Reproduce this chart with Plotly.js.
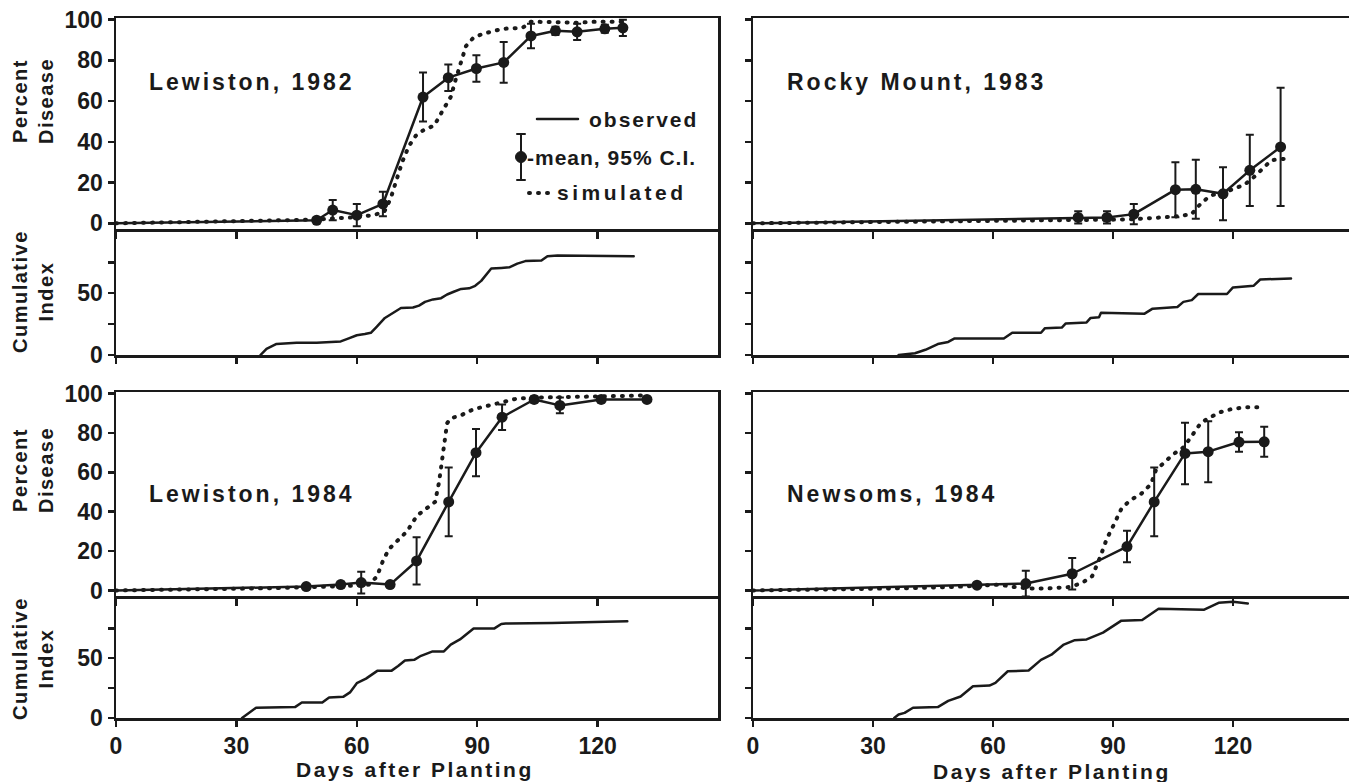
<!DOCTYPE html>
<html>
<head>
<meta charset="utf-8">
<script src="https://cdn.plot.ly/plotly-3.0.1.min.js"></script>
<style>
html,body{margin:0;padding:0;background:#fff;}
#chart{width:1349px;height:782px;}
.annotation-text{letter-spacing:2px;}
.scatterlayer .js-line{stroke-linecap:round;stroke-linejoin:round;}
.shapelayer path{stroke-linecap:round;}
</style>
</head>
<body>
<div id="chart"></div>
<script>
// ---------- DATA ----------
const xTicks = [0, 30, 60, 90, 120];
const pctTicks = [0, 20, 40, 60, 80, 100];
const cumTicks = [0, 25, 50, 75];
const cumTickText = ['0', '', '50', ''];

const siteNames = ['Lewiston, 1982', 'Rocky Mount, 1983', 'Lewiston, 1984', 'Newsoms, 1984'];

// Lewiston, 1982
const obsDays82 = [50, 54, 60, 66.5, 76.5, 82.8, 89.8, 96.6, 103.4, 109.5, 114.9, 121.8, 126.3];
const obsPct82  = [1.5, 6.5, 4, 9.5, 62, 71.5, 76, 79, 92, 94.5, 94, 95.5, 96];
const ci82      = [1, 5, 5.5, 6, 12, 6.5, 6.5, 10, 6, 2, 4, 2, 4];
const simDays82 = [0, 10, 20, 30, 40, 50, 55, 60, 64, 66.8, 68.4, 70, 71.3, 73, 74.7, 76.8, 79.3, 81.3, 83.4, 84.7, 86.3, 87.2, 89, 91.3, 96.3, 101.3, 103.4, 110, 115, 120, 126.3];
const simPct82  = [0, 0.3, 0.5, 0.8, 1.2, 1.8, 2.5, 3, 4, 5.5, 12, 22, 30, 38, 43, 46, 48, 55, 62, 71, 82, 87, 91, 93, 95.5, 96, 99, 98.5, 98.5, 99, 99];
const cumDays82 = [36, 37.5, 40, 45, 50, 56, 58, 60, 62, 63.5, 65, 67, 69, 71, 74, 75.5, 77, 79, 81, 82.5, 84, 86, 88, 89.5, 91, 93.5, 96, 98, 100, 102, 106, 107.5, 110, 120, 129];
const cumIdx82  = [0, 5, 9, 10, 10, 11, 13.5, 16, 17, 18, 23, 30, 34, 38, 38.5, 40, 43, 45, 46, 49, 51, 53.5, 54, 56, 60, 70, 70.5, 71, 74, 76, 76.5, 80, 80.5, 80.5, 80];

// Rocky Mount, 1983
const obsDays83 = [81.3, 88.5, 95.2, 105.6, 110.7, 117.5, 124.2, 131.9];
const obsPct83  = [2.9, 2.9, 4.5, 16.5, 16.7, 14.5, 26, 37.5];
const ci83      = [3, 3, 5, 13.5, 14.5, 13, 17.5, 29];
const simDays83 = [0, 20, 40, 60, 80, 90, 95, 98.7, 102, 105.4, 109.6, 112, 114.2, 116.2, 118.7, 122.9, 125.4, 129.6, 133.3];
const simPct83  = [0, 0.3, 0.6, 1, 1.5, 1.8, 2, 2.3, 2.8, 3.3, 4.4, 9.8, 13.4, 14.7, 15.8, 19, 23, 31, 31.7];
const cumDays83 = [36.4, 40.5, 43.1, 46.2, 48.8, 50.3, 62.7, 64.8, 72, 73, 77.2, 78.2, 83.4, 84.4, 86.5, 87, 97.8, 99.9, 106.1, 107.6, 109.7, 111.3, 118.5, 120, 125.2, 126.8, 134.5];
const cumIdx83  = [0, 1.4, 4.2, 8.9, 10.6, 13.3, 13.3, 18, 18, 21.7, 22.2, 25.6, 26.4, 30, 30.6, 34.2, 33.3, 37.5, 38.9, 43, 44.4, 49.4, 49.4, 54.7, 56.1, 61.1, 62];

// Lewiston, 1984
const obsDays84L = [47.4, 56, 61.1, 68.3, 74.9, 82.9, 89.7, 96.2, 104.2, 110.6, 120.9, 132.3];
const obsPct84L  = [2, 3, 4, 3, 15, 45, 70, 88, 97, 94, 97, 97];
const ci84L      = [1, 1.5, 5.5, 1, 12, 17.5, 12, 6.5, 1.5, 4, 1.5, 1];
const simDays84L = [0, 20, 40, 50, 55, 60, 63, 65, 66.5, 68, 70, 72.5, 75, 77.5, 79.5, 80.5, 81.5, 82.5, 83.5, 86, 89, 93, 96.5, 100, 106, 115, 131];
const simPct84L  = [0, 0.5, 1.2, 1.8, 2, 2.5, 3, 7, 15, 21, 25, 30, 38, 42, 45, 55, 70, 85, 87.5, 89, 92, 94, 96, 97.5, 98, 98.5, 99];
const cumDays84L = [31.4, 33.1, 34.9, 44.6, 46.3, 51.4, 53.1, 56.6, 58.3, 60, 62.3, 65.1, 68.6, 70.3, 72, 74.3, 76, 78.9, 81.7, 83.4, 85.7, 89.1, 94.3, 96, 97.1, 108.6, 127.4];
const cumIdx84L  = [0, 4.3, 8.6, 9.1, 12.9, 12.9, 17.1, 17.7, 21.4, 29.1, 32.9, 39.4, 39.4, 43.4, 48, 48.6, 52, 55.7, 55.7, 61.4, 65.7, 74.9, 74.9, 78.6, 79, 79.4, 80.9];

// Newsoms, 1984
const obsDays84N = [56, 68.2, 79.8, 93.5, 100.3, 108, 113.8, 121.5, 127.8];
const obsPct84N  = [2.7, 3.5, 8.5, 22.3, 45, 69.6, 70.5, 75.4, 75.5];
const ci84N      = [1, 6.5, 8, 8, 17.5, 15.6, 15.5, 5, 7.6];
const simDays84N = [0, 20, 40, 50, 56, 59.3, 61.8, 65, 69.2, 73.3, 76.6, 79.4, 82.3, 84.8, 86.8, 88.4, 90.1, 92.1, 94.2, 97, 99.5, 100.7, 102.8, 105.2, 107.7, 109.8, 111.8, 113.4, 116.7, 119.8, 123.1, 128];
const simPct84N  = [0, 0.5, 1.2, 1.8, 2.5, 3, 3, 1.8, 1, 1, 1.3, 1.8, 3.9, 7.3, 17, 26, 33, 41.5, 45.7, 49, 54, 61, 65, 69.4, 72.8, 78.7, 84.6, 87, 90.5, 92.2, 93, 93];
const cumDays84N = [35.3, 36.4, 37.9, 40, 46.2, 48.8, 51.9, 55, 59.1, 60.6, 63.7, 68.9, 72, 74.6, 77.7, 80.3, 83.4, 87.5, 92.1, 97.3, 101.4, 112.8, 116.4, 120, 123.7];
const cumIdx84N  = [0, 2.9, 4.3, 8.6, 9.1, 14.3, 18, 26.6, 27.1, 29.4, 39.1, 39.7, 48.6, 52.9, 61.4, 64.9, 65.7, 71.4, 81.4, 82, 91.4, 90.6, 96.3, 97.1, 95.7];

// ---------- BUILD ----------
const INK = '#1a1a1a';
const W = 1349, H = 782;
const px = v => v / W;
const py = v => 1 - v / H;
const FAM = 'Liberation Sans, Arial, sans-serif';
const DOTS = '1px,8px';

const panels = [
  {name: siteNames[0], obsD: obsDays82, obsP: obsPct82, ci: ci82, simD: simDays82, simP: simPct82, cumD: cumDays82, cumV: cumIdx82, col: 0, row: 0},
  {name: siteNames[1], obsD: obsDays83, obsP: obsPct83, ci: ci83, simD: simDays83, simP: simPct83, cumD: cumDays83, cumV: cumIdx83, col: 1, row: 0},
  {name: siteNames[2], obsD: obsDays84L, obsP: obsPct84L, ci: ci84L, simD: simDays84L, simP: simPct84L, cumD: cumDays84L, cumV: cumIdx84L, col: 0, row: 1},
  {name: siteNames[3], obsD: obsDays84N, obsP: obsPct84N, ci: ci84N, simD: simDays84N, simP: simPct84N, cumD: cumDays84N, cumV: cumIdx84N, col: 1, row: 1}
];

const colDom = [[px(116), px(718)], [px(753), 1]];
const colRange = [[0, 150], [0, 149]];
const rowPct = [[py(229), py(18)], [py(596), py(392)]];
const rowCum = [[py(355), py(229)], [py(718), py(596)]];

const tickFont = {family: FAM, size: 23, color: INK, weight: 'bold'};
const baseAxis = {
  showline: true, mirror: true, linecolor: INK, linewidth: 2.5,
  ticks: 'outside', ticklen: 7, tickwidth: 2.5, tickcolor: INK,
  showgrid: false, zeroline: false, fixedrange: true, tickfont: tickFont
};

const traces = [];
const layout = {
  width: W, height: H,
  margin: {l: 0, r: 0, t: 0, b: 0},
  paper_bgcolor: '#fff', plot_bgcolor: '#fff',
  showlegend: false,
  annotations: [], shapes: []
};

const spaced = (t, s) => '<span style="letter-spacing:' + s + 'px">' + t + '</span>';

panels.forEach((p, i) => {
  const a = 2 * i + 1, b = 2 * i + 2;
  const xa = 'x' + a, ya = 'y' + a, xb = 'x' + b, yb = 'y' + b;
  const left = p.col === 0;
  const bottom = p.row === 1;

  layout['xaxis' + a] = Object.assign({}, baseAxis, {domain: colDom[p.col], range: colRange[p.col], anchor: ya, tickvals: xTicks, showticklabels: false});
  layout['yaxis' + a] = Object.assign({}, baseAxis, {domain: rowPct[p.row], range: [-2.8, 100.8], anchor: xa, tickvals: pctTicks, showticklabels: left, ticklen: 6});
  layout['xaxis' + b] = Object.assign({}, baseAxis, {domain: colDom[p.col], range: colRange[p.col], anchor: yb, tickvals: xTicks, showticklabels: bottom, ticklen: 6, mirror: false});
  layout['yaxis' + b] = Object.assign({}, baseAxis, {domain: rowCum[p.row], range: [0, 102], anchor: xb, tickvals: cumTicks, ticktext: cumTickText, showticklabels: left, ticklen: 6});

  // simulated (dotted)
  traces.push({x: p.simD, y: p.simP, xaxis: xa, yaxis: ya, mode: 'lines', type: 'scatter',
    line: {color: INK, width: 4, dash: DOTS}, hoverinfo: 'skip', cliponaxis: false});
  // observed line (starts at planting, day 0)
  traces.push({x: [0].concat(p.obsD), y: [0].concat(p.obsP), xaxis: xa, yaxis: ya, mode: 'lines', type: 'scatter',
    line: {color: INK, width: 2.5}, hoverinfo: 'skip', cliponaxis: false});
  // observed means with 95% CI
  traces.push({x: p.obsD, y: p.obsP, xaxis: xa, yaxis: ya, mode: 'markers', type: 'scatter',
    marker: {color: INK, size: 11},
    error_y: {type: 'data', array: p.ci, visible: true, color: INK, thickness: 2, width: 4},
    cliponaxis: false});
  // cumulative index
  traces.push({x: p.cumD, y: p.cumV, xaxis: xb, yaxis: yb, mode: 'lines', type: 'scatter',
    line: {color: INK, width: 2.5}, hoverinfo: 'skip'});

  layout.annotations.push({xref: 'paper', yref: 'paper', x: px(left ? 147 : 785), y: py(p.row === 0 ? 82 : 494),
    xanchor: 'left', yanchor: 'middle', text: spaced(p.name, 3), showarrow: false,
    font: {family: FAM, size: 23, color: INK, weight: 'bold'}});

  if (left) {
    const yf = {family: FAM, size: 20, color: INK, weight: 'bold'};
    layout.annotations.push({xref: 'paper', yref: 'paper', x: px(33), y: py(p.row === 0 ? 101 : 470),
      text: spaced('Percent<br>Disease', 1.5), textangle: -90, showarrow: false, xanchor: 'center', yanchor: 'middle', font: yf});
    layout.annotations.push({xref: 'paper', yref: 'paper', x: px(33), y: py(p.row === 0 ? 292 : 659),
      text: spaced('Cumulative<br>Index', 1.5), textangle: -90, showarrow: false, xanchor: 'center', yanchor: 'middle', font: yf});
  }
  if (bottom) {
    layout.annotations.push({xref: 'paper', yref: 'paper', x: px(left ? 415 : 1052), y: py(left ? 769 : 771),
      text: spaced('Days after Planting', 2.5), showarrow: false, xanchor: 'center', yanchor: 'middle',
      font: {family: FAM, size: 21, color: INK, weight: 'bold'}});
  }
});

// ---------- legend (Lewiston, 1982 panel) ----------
const legFont = {family: FAM, size: 21, color: INK, weight: 'bold'};
layout.shapes.push({type: 'line', xref: 'paper', yref: 'paper', x0: px(537), x1: px(578), y0: py(119), y1: py(119), line: {color: INK, width: 2.5}});
layout.annotations.push({xref: 'paper', yref: 'paper', x: px(587), y: py(119), xanchor: 'left', yanchor: 'middle', text: spaced('observed', 2), showarrow: false, font: legFont});
layout.shapes.push({type: 'line', xref: 'paper', yref: 'paper', x0: px(521), x1: px(521), y0: py(134), y1: py(180), line: {color: INK, width: 2}});
layout.shapes.push({type: 'line', xref: 'paper', yref: 'paper', x0: px(517), x1: px(525), y0: py(134), y1: py(134), line: {color: INK, width: 2}});
layout.shapes.push({type: 'line', xref: 'paper', yref: 'paper', x0: px(517), x1: px(525), y0: py(180), y1: py(180), line: {color: INK, width: 2}});
layout.shapes.push({type: 'circle', xref: 'paper', yref: 'paper', x0: px(515.5), x1: px(526.5), y0: py(162.5), y1: py(151.5), fillcolor: INK, line: {color: INK, width: 1}});
layout.annotations.push({xref: 'paper', yref: 'paper', x: px(525), y: py(157), xanchor: 'left', yanchor: 'middle', text: spaced('-mean, 95% C.I.', 1), showarrow: false, font: legFont});
layout.shapes.push({type: 'line', xref: 'paper', yref: 'paper', x0: px(529), x1: px(551), y0: py(193), y1: py(193), line: {color: INK, width: 4, dash: DOTS}});
layout.annotations.push({xref: 'paper', yref: 'paper', x: px(555), y: py(193), xanchor: 'left', yanchor: 'middle', text: spaced('simulated', 3.5), showarrow: false, font: legFont});

Plotly.newPlot('chart', traces, layout, {staticPlot: true, displayModeBar: false});
</script>
</body>
</html>
